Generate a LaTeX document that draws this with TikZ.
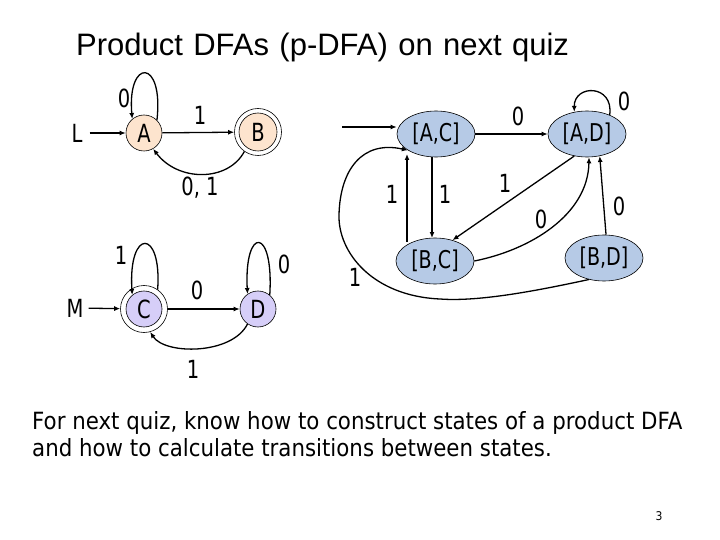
\documentclass[tikz,border=0pt]{standalone}
\usepackage{fontspec}
\setmainfont{DejaVu Sans}[FakeStretch=0.9]
\newfontfamily\lblfont{DejaVu Sans}[FakeStretch=0.78]
\newfontfamily\titlefont{Liberation Sans}[WordSpace=1.2]
\usetikzlibrary{arrows.meta,shapes.geometric}
\definecolor{peach}{RGB}{253,228,206}
\definecolor{lav}{RGB}{214,206,248}
\definecolor{pblue}{RGB}{182,202,230}
\tikzset{
  lbl/.style={font=\lblfont\fontsize{25}{27}\selectfont, inner sep=0pt},
  st/.style={circle, draw, line width=0.6pt, minimum size=36pt, inner sep=0pt, font=\lblfont\fontsize{25}{27}\selectfont},
  acc/.style={circle, draw, line width=0.6pt, minimum size=47pt, inner sep=0pt},
  pst/.style={ellipse, draw, line width=0.6pt, fill=pblue, minimum width=78pt, minimum height=46pt, inner sep=0pt, font=\lblfont\fontsize{24.5}{26}\selectfont},
  edge/.style={line width=1.3pt, -{Latex[length=6pt,width=5pt]}},
}
\begin{document}
\begin{tikzpicture}[x=1pt,y=-1pt]
\useasboundingbox (0,0) rectangle (720,540);
\fill[white] (0,0) rectangle (720,540);
% title
\node[anchor=base west, inner sep=0pt, font=\titlefont\fontsize{31}{35}\selectfont] (title) at (76,56) {Product DFAs (p-DFA) on next quiz};
% DFA L
\node[lbl, inner xsep=7pt] (L) at (77,133) {L};
\node[st, fill=peach] (A) at (144,133) {A};
\node[acc] (B) at (258,132) {};
\node[st, fill=peach, minimum size=38pt] (Bin) at (B) {B};
\draw[edge] (L) -- (A);
\draw[edge] (A) -- (B);
\draw[edge] (A.45) .. controls (164,58) and (127,58) .. (A.130);
\draw[edge] (B.235) .. controls (228,182) and (178,182) .. (A.300);
\node[lbl] (l1) at (124,98) {0};
\node[lbl] (l2) at (200,115) {1};
\node[lbl] (l3) at (200,188) {0, 1};
% DFA M
\node[lbl, inner xsep=5pt] (M) at (75,308) {M};
\node[acc] (C) at (144,309) {};
\node[st, fill=lav] (Cin) at (C) {C};
\node[st, fill=lav] (D) at (258,309) {D};
\draw[edge] (M) -- (C);
\draw[edge] (C) -- (D);
\draw[edge] (C.55) .. controls (162,228) and (128,228) .. (Cin.130);
\draw[edge] (D.50) .. controls (274,226) and (244,226) .. (D.125);
\draw[edge] (D.235) .. controls (232,355) and (165,355) .. (C.285);
\node[lbl] (l4) at (121,255) {1};
\node[lbl] (l5) at (197,290) {0};
\node[lbl] (l6) at (284,264) {0};
\node[lbl] (l7) at (193,369) {1};
% product DFA
\coordinate (start) at (342,127);
\node[pst] (AC) at (436,134) {[A,C]};
\node[pst] (AD) at (587,134) {[A,D]};
\node[pst] (BC) at (435,261) {[B,C]};
\node[pst] (BD) at (604,258) {[B,D]};
\coordinate (bc1) at (407,242);
\coordinate (ac1) at (407,154);
\coordinate (ac2) at (432,157);
\coordinate (bc2) at (432,238);
\draw[edge] (start) -- (AC.west |- start);
\draw[edge] (AC) -- (AD);
\draw[edge] (AD.40) .. controls (614,84) and (574,84) .. (AD.120);
\draw[edge] (bc1) -- (ac1);
\draw[edge] (ac2) -- (bc2);
\draw[edge] (AD.240) -- (BC.50);
\draw[edge] (BC.east) .. controls (530,250) and (588,215) .. (AD.275);
\draw[edge] (BD.85) -- (AD.300);
\draw[edge] (BD.235) .. controls (540,290) and (480,302) .. (440,299)
  .. controls (372,296) and (338,252) .. (339,215)
  .. controls (340,170) and (362,140) .. (AC.210);
\node[lbl] (m1) at (518,116) {0};
\node[lbl] (m2) at (624,101) {0};
\node[lbl] (m3) at (392,194) {1};
\node[lbl] (m4) at (445,194) {1};
\node[lbl] (m5) at (505,183) {1};
\node[lbl] (m6) at (541,219) {0};
\node[lbl] (m7) at (619,206) {0};
\node[lbl] (m8) at (355,277) {1};
% text
\node[anchor=base west, inner sep=0pt, align=left, font=\fontsize{23.7}{27}\selectfont] (txt) at (32,456) {For next quiz, know how to construct states of a product DFA\\and how to calculate transitions between states.};
\node[inner sep=0pt, font=\fontsize{12}{14}\selectfont] (pg) at (659,516) {3};
\end{tikzpicture}
\end{document}
